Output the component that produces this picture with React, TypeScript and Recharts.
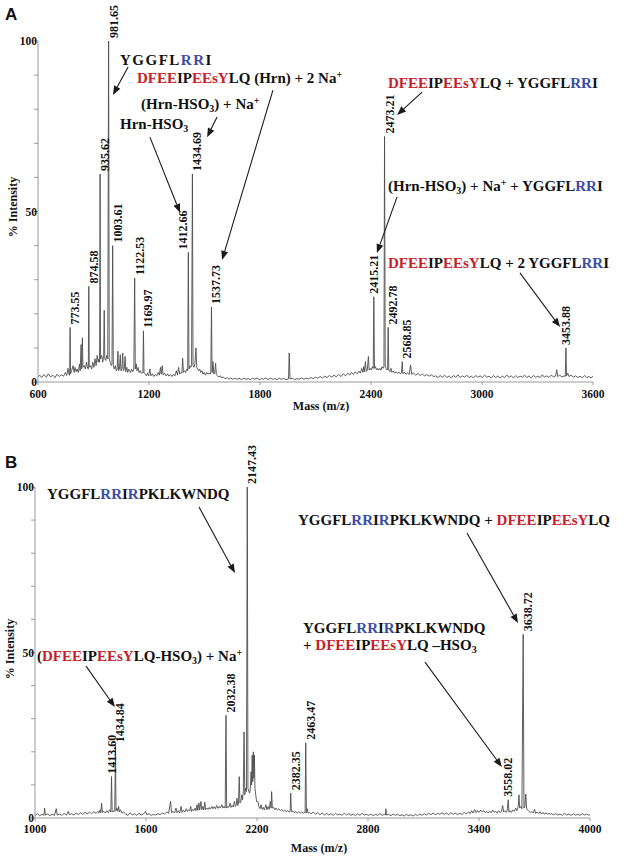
import { ComposedChart, Line, ReferenceLine, Scatter, XAxis, YAxis } from 'recharts';

// ---- panel A: labelled peaks [m/z, % intensity]
const peaksA = [
  [773.55, 16], [874.58, 28], [935.62, 61], [981.65, 100], [1003.61, 40],
  [1122.53, 30.5], [1169.97, 15], [1412.66, 38], [1434.69, 61], [1537.73, 22],
  [2415.21, 25], [2473.21, 72], [2492.78, 16], [2568.85, 6], [3453.88, 10],
];

// ---- panel A: everything else in the trace (baseline + small unlabelled peaks)
const traceA = [
  [600, 1.5], [610, 2.0], [620, 1.3], [632, 2.2], [645, 1.4], [655, 2.4], [668, 1.5], [680, 2.0],
  [692, 1.3], [703, 2.3], [715, 1.6], [726, 2.1], [738, 1.7], [748, 2.8], [755, 1.9], [762, 4.0],
  [768, 2.1], [771, 2.0], [776, 2.4], [782, 3.4], [790, 4.8], [795, 2.8], [800, 4.3], [806, 3.0],
  [812, 3.8], [818, 2.8], [824, 5.3], [828, 3.3], [833, 11], [836, 3.8], [840, 13], [843, 4.3],
  [850, 4.8], [856, 3.8], [862, 5.8], [868, 4.0], [872, 3.8], [877, 4.3], [884, 4.8], [890, 3.8],
  [896, 5.8], [902, 4.3], [908, 6.8], [914, 4.8], [920, 7.8], [925, 5.8], [930, 6.8], [933, 5.8],
  [938, 6.8], [944, 7.8], [950, 5.8], [955, 7.8], [958, 21], [961, 6.8], [966, 6.3], [972, 7.8],
  [977, 6.8], [985, 6.8], [990, 5.8], [996, 4.8], [1000, 5.3], [1007, 4.8], [1012, 3.8], [1018, 4.8],
  [1023, 3.3], [1028, 3.8], [1032, 9], [1035, 3.3], [1040, 3.8], [1045, 8], [1048, 3.3], [1053, 3.8],
  [1058, 8.5], [1061, 3.3], [1066, 3.8], [1071, 7.5], [1074, 3.0], [1080, 4.3], [1085, 2.8], [1090, 3.8],
  [1095, 3.3], [1100, 2.8], [1106, 3.8], [1112, 3.0], [1118, 3.8], [1126, 3.8], [1131, 5.3], [1135, 3.3],
  [1141, 4.3], [1146, 2.8], [1152, 3.3], [1158, 2.6], [1163, 2.8], [1167, 2.6], [1173, 2.8], [1180, 2.3],
  [1186, 1.8], [1192, 2.6], [1198, 1.8], [1205, 3.8], [1210, 1.8], [1218, 2.4], [1226, 1.6], [1234, 2.2],
  [1242, 1.8], [1250, 2.8], [1256, 2.0], [1262, 4.3], [1266, 2.3], [1272, 4.8], [1276, 2.1], [1284, 2.6],
  [1292, 1.8], [1300, 2.4], [1308, 1.7], [1316, 2.2], [1324, 1.6], [1332, 2.3], [1340, 1.8], [1348, 3.3],
  [1354, 2.0], [1360, 4.3], [1366, 2.3], [1372, 2.8], [1378, 2.6], [1382, 7], [1386, 2.8], [1392, 3.3],
  [1398, 2.8], [1404, 3.8], [1409, 3.3], [1416, 3.8], [1421, 4.8], [1426, 4.3], [1430, 4.8], [1438, 4.8],
  [1443, 4.3], [1448, 5.3], [1454, 10], [1458, 4.3], [1463, 3.8], [1468, 3.3], [1474, 3.8], [1480, 2.8],
  [1486, 3.3], [1492, 2.3], [1498, 2.8], [1505, 2.0], [1512, 2.8], [1518, 2.3], [1524, 2.6], [1530, 2.3],
  [1534, 2.6], [1541, 2.8], [1546, 6], [1550, 2.3], [1555, 2.6], [1560, 5.5], [1564, 2.1], [1570, 1.8],
  [1578, 1.5], [1586, 1.8], [1594, 1.1], [1602, 1.5], [1612, 0.9], [1622, 1.3], [1632, 0.8], [1642, 1.2],
  [1652, 0.8], [1664, 1.1], [1676, 0.8], [1688, 1.1], [1700, 0.7], [1712, 1.1], [1724, 0.8], [1736, 1.0],
  [1748, 0.7], [1760, 1.1], [1772, 0.8], [1784, 1.2], [1796, 0.7], [1808, 1.0], [1820, 0.8], [1832, 1.2],
  [1844, 0.7], [1856, 1.1], [1868, 0.8], [1880, 1.0], [1892, 0.7], [1904, 1.1], [1916, 0.8], [1928, 1.0],
  [1940, 0.7], [1954, 0.9], [1958, 8.5], [1962, 0.9], [1975, 1.1], [1988, 0.7], [2000, 1.0], [2012, 0.8],
  [2025, 1.2], [2038, 0.8], [2050, 1.1], [2062, 0.9], [2075, 1.3], [2088, 1.0], [2100, 1.4], [2112, 1.1],
  [2125, 1.6], [2138, 1.2], [2150, 1.7], [2162, 1.3], [2175, 1.9], [2188, 1.4], [2200, 2.0], [2212, 1.5],
  [2225, 2.2], [2238, 1.6], [2250, 2.4], [2262, 1.8], [2275, 2.6], [2285, 2.0], [2295, 2.8], [2305, 2.2],
  [2315, 3.0], [2325, 2.4], [2335, 3.2], [2342, 2.6], [2350, 4.0], [2356, 2.8], [2360, 4.5], [2364, 3.0],
  [2370, 6], [2374, 3.0], [2380, 3.5], [2386, 7.5], [2390, 3.5], [2396, 4.0], [2402, 3.5], [2408, 4.5],
  [2412, 4.0], [2419, 4.0], [2424, 4.5], [2430, 3.5], [2436, 4.0], [2442, 3.5], [2448, 4.0], [2454, 3.5],
  [2460, 4.5], [2466, 4.0], [2470, 4.5], [2477, 4.5], [2482, 4.0], [2487, 3.5], [2490, 3.8], [2496, 3.5],
  [2502, 3.0], [2508, 4.0], [2514, 2.8], [2520, 3.2], [2528, 2.6], [2536, 3.0], [2544, 2.5], [2552, 2.9],
  [2560, 2.4], [2565, 2.6], [2572, 2.5], [2582, 2.8], [2590, 2.3], [2598, 2.7], [2606, 2.2], [2614, 5],
  [2620, 2.3], [2630, 2.6], [2642, 2.0], [2654, 2.5], [2666, 1.9], [2678, 2.3], [2690, 1.8], [2702, 2.2],
  [2714, 1.7], [2726, 2.1], [2738, 1.6], [2750, 1.8], [2762, 1.3], [2774, 1.9], [2786, 1.4], [2798, 2.0],
  [2810, 1.3], [2822, 1.8], [2834, 1.2], [2846, 1.9], [2858, 1.4], [2870, 2.1], [2882, 1.3], [2894, 1.8],
  [2906, 1.4], [2918, 2.0], [2930, 1.3], [2942, 1.7], [2954, 1.2], [2966, 1.9], [2978, 1.4], [2990, 1.8],
  [3002, 1.3], [3014, 2.0], [3026, 1.4], [3038, 1.7], [3050, 1.2], [3062, 1.9], [3074, 1.3], [3086, 1.8],
  [3098, 1.2], [3110, 1.7], [3122, 1.3], [3134, 2.0], [3146, 1.4], [3158, 1.8], [3170, 1.2], [3182, 1.9],
  [3194, 1.3], [3206, 1.7], [3218, 1.4], [3230, 2.0], [3242, 1.3], [3254, 1.8], [3266, 1.2], [3278, 1.9],
  [3290, 1.4], [3302, 1.7], [3314, 1.3], [3326, 2.1], [3338, 1.4], [3350, 1.8], [3362, 1.3], [3374, 2.0],
  [3386, 1.5], [3398, 1.8], [3404, 3.6], [3409, 1.6], [3420, 2.0], [3432, 1.5], [3444, 1.8], [3450, 1.6],
  [3457, 1.8], [3464, 2.6], [3470, 1.6], [3482, 2.0], [3494, 1.4], [3506, 1.8], [3518, 1.3], [3530, 1.7],
  [3542, 1.2], [3554, 1.9], [3566, 1.3], [3578, 1.6], [3590, 1.2], [3600, 1.8],
];

// ---- panel B: labelled peaks
const peaksB = [
  [1413.6, 12.5], [1434.84, 22], [2032.38, 31], [2147.43, 100], [2382.35, 7.5],
  [2463.47, 22.7], [3558.02, 5.5], [3638.72, 55.5],
];

// ---- panel B: rest of the trace
const traceB = [
  [1000, 0.8], [1012, 1.3], [1025, 0.7], [1038, 1.1], [1048, 0.8], [1052, 3.0], [1056, 0.9], [1068, 1.2],
  [1080, 0.7], [1092, 1.1], [1105, 0.8], [1115, 2.8], [1120, 0.9], [1132, 1.2], [1145, 0.8], [1158, 1.4],
  [1170, 0.9], [1180, 2.0], [1186, 1.0], [1198, 1.3], [1210, 0.9], [1222, 1.5], [1234, 1.0], [1246, 1.6],
  [1258, 1.1], [1270, 1.7], [1282, 1.2], [1294, 1.8], [1306, 1.3], [1318, 1.9], [1330, 1.4], [1340, 2.0],
  [1346, 1.5], [1352, 2.5], [1356, 1.6], [1360, 4.5], [1364, 1.7], [1372, 2.0], [1380, 1.5], [1388, 2.2],
  [1396, 1.6], [1404, 2.5], [1410, 1.8], [1417, 2.0], [1422, 1.8], [1428, 2.2], [1431, 2.0], [1438, 2.2],
  [1443, 3.0], [1447, 2.0], [1452, 3.5], [1456, 1.8], [1462, 2.5], [1470, 1.5], [1478, 1.8], [1490, 1.2],
  [1502, 0.8], [1514, 1.6], [1526, 0.9], [1538, 1.3], [1550, 0.8], [1562, 1.4], [1574, 0.9], [1586, 1.2],
  [1598, 2.0], [1604, 1.0], [1616, 1.3], [1628, 0.8], [1640, 1.1], [1652, 0.9], [1664, 1.3], [1676, 1.0],
  [1688, 1.5], [1700, 1.2], [1712, 1.8], [1722, 1.4], [1733, 5.0], [1738, 1.6], [1746, 2.0], [1754, 1.5],
  [1762, 3.0], [1768, 1.6], [1775, 2.2], [1782, 1.5], [1790, 3.5], [1795, 1.7], [1802, 2.4], [1810, 1.8],
  [1818, 2.8], [1824, 2.0], [1830, 2.5], [1836, 2.2], [1842, 3.5], [1846, 2.0], [1852, 2.6], [1858, 2.2],
  [1865, 3.0], [1870, 2.2], [1876, 4.0], [1880, 2.3], [1886, 4.5], [1890, 2.4], [1897, 5.0], [1901, 2.5],
  [1908, 3.5], [1912, 2.4], [1918, 4.8], [1922, 2.5], [1930, 3.0], [1936, 2.6], [1942, 3.2], [1948, 2.7],
  [1956, 3.5], [1962, 2.8], [1968, 3.4], [1975, 2.8], [1982, 3.8], [1988, 2.9], [1995, 3.5], [2002, 3.0],
  [2010, 4.0], [2016, 3.0], [2022, 3.5], [2028, 3.0], [2036, 3.0], [2042, 3.5], [2048, 3.2], [2055, 4.5],
  [2060, 3.2], [2066, 3.8], [2072, 3.3], [2078, 5.0], [2083, 3.5], [2088, 4.0], [2092, 6.0], [2096, 3.8],
  [2100, 4.5], [2104, 12.5], [2108, 4.5], [2113, 5.0], [2118, 7.0], [2122, 5.5], [2126, 8.0], [2130, 26],
  [2134, 7.0], [2138, 9.0], [2143, 8.0], [2151, 9.0], [2156, 8.0], [2160, 7.5], [2164, 9.0], [2168, 14],
  [2171, 10], [2174, 19], [2177, 11], [2180, 20], [2183, 12], [2186, 19], [2189, 9.0], [2193, 7.0],
  [2198, 5.0], [2205, 5.0], [2210, 3.5], [2216, 2.8], [2222, 4.0], [2228, 2.6], [2234, 3.2], [2240, 2.4],
  [2248, 4.0], [2254, 2.5], [2260, 3.5], [2266, 2.6], [2272, 5.0], [2276, 3.0], [2279, 8.0], [2283, 3.0],
  [2290, 3.2], [2296, 2.5], [2302, 3.0], [2310, 2.4], [2318, 2.8], [2326, 2.2], [2334, 2.6], [2342, 2.0],
  [2350, 2.4], [2358, 1.9], [2366, 2.2], [2374, 1.8], [2379, 2.0], [2386, 1.9], [2394, 2.1], [2402, 1.6],
  [2410, 2.0], [2418, 1.5], [2426, 1.9], [2434, 1.5], [2442, 1.8], [2450, 1.4], [2456, 1.7], [2460, 1.5],
  [2467, 1.6], [2472, 2.8], [2476, 1.5], [2484, 1.7], [2492, 1.2], [2504, 1.8], [2516, 1.1], [2528, 1.6],
  [2540, 1.0], [2552, 1.5], [2564, 0.9], [2576, 1.4], [2588, 0.9], [2600, 1.3], [2612, 0.8], [2624, 1.4],
  [2636, 0.9], [2648, 1.2], [2660, 0.8], [2672, 1.5], [2684, 0.9], [2696, 1.3], [2708, 0.8], [2720, 1.2],
  [2732, 0.7], [2744, 1.3], [2756, 0.8], [2768, 1.4], [2780, 0.9], [2792, 1.1], [2804, 0.8], [2816, 1.2],
  [2828, 0.7], [2840, 1.1], [2852, 0.8], [2864, 1.3], [2876, 0.8], [2888, 1.1], [2894, 0.9], [2897, 2.8],
  [2900, 0.9], [2912, 1.1], [2924, 0.7], [2936, 1.2], [2948, 0.8], [2960, 1.1], [2972, 0.7], [2984, 1.0],
  [2996, 0.6], [3008, 1.1], [3020, 0.7], [3032, 1.0], [3044, 0.6], [3056, 1.1], [3068, 0.7], [3080, 1.2],
  [3092, 0.8], [3104, 1.3], [3116, 0.9], [3128, 1.4], [3140, 1.0], [3152, 1.5], [3164, 1.0], [3176, 1.4],
  [3188, 1.1], [3200, 1.6], [3212, 1.1], [3224, 1.5], [3236, 1.0], [3248, 1.6], [3260, 1.1], [3272, 1.5],
  [3284, 1.0], [3296, 1.4], [3308, 1.1], [3320, 1.7], [3332, 1.2], [3344, 1.9], [3352, 1.3], [3360, 2.2],
  [3368, 1.5], [3376, 2.5], [3384, 1.6], [3392, 2.3], [3400, 1.7], [3410, 2.4], [3418, 1.8], [3426, 2.2],
  [3434, 1.6], [3442, 2.0], [3450, 1.5], [3458, 2.1], [3466, 1.6], [3474, 2.4], [3482, 1.7], [3490, 2.0],
  [3498, 1.5], [3506, 2.2], [3514, 1.6], [3522, 2.0], [3528, 3.8], [3533, 1.8], [3540, 2.2], [3546, 1.7],
  [3552, 2.0], [3562, 1.8], [3568, 2.2], [3575, 1.7], [3582, 2.4], [3590, 2.0], [3598, 3.0], [3605, 2.2],
  [3612, 3.5], [3616, 7.0], [3620, 3.0], [3627, 3.5], [3632, 2.8], [3643, 3.0], [3648, 3.5], [3653, 7.2],
  [3657, 3.0], [3662, 2.5], [3670, 2.0], [3678, 1.6], [3686, 2.0], [3694, 1.5], [3700, 2.6], [3706, 1.4],
  [3714, 1.8], [3722, 1.3], [3730, 1.9], [3738, 1.2], [3746, 1.7], [3754, 1.1], [3762, 1.6], [3770, 1.1],
  [3778, 1.5], [3786, 1.0], [3794, 1.4], [3802, 0.9], [3814, 1.3], [3826, 0.9], [3838, 1.2], [3850, 0.8],
  [3862, 1.4], [3874, 0.9], [3886, 1.2], [3898, 0.8], [3910, 1.3], [3922, 0.9], [3934, 1.1], [3946, 0.8],
  [3958, 1.3], [3970, 0.9], [3982, 1.2], [3994, 0.8], [4000, 1.0],
];

const xTicksA = [600, 1200, 1800, 2400, 3000, 3600];
const xTicksB = [1000, 1600, 2200, 2800, 3400, 4000];
const yTicks = [0, 10, 20, 30, 40, 50, 60, 70, 80, 90, 100];

// annotation arrows, [fromM, fromI, toM, toI] in data units
const arrowsA = [
  [1087, 92.4, 1005, 84.2],
  [1870, 85.6, 1595, 35.8],
  [1568, 77.7, 1514, 71.8],
  [1205, 71.8, 1368, 49.6],
  [2676, 85.0, 2541, 78.3],
  [2541, 54.3, 2432, 37.8],
  [3205, 32.0, 3422, 16.1],
];
const arrowsB = [
  [1886, 94.0, 2081, 74.0],
  [3335, 86.1, 3611, 58.9],
  [1276, 45.9, 1432, 33.5],
  [3108, 47.1, 3524, 15.4],
];

const SERIF = "'Liberation Serif', 'Times New Roman', serif";
const INK = '#111';
const RED = '#c41f2b';
const BLUE = '#3a4ea6';

// horizontal offset of a rotated peak label from its peak line (px); default sits right of the line
const LABEL_DX_DEFAULT = 9;
const labelDx: Record<string, number> = {
  '1412.66': -1, '2415.21': 4, '3453.88': 4, '1413.60': 4, '3558.02': 4,
};

type Seg = [string, string?];
const HRN: Seg[] = [['DFEE', 'r'], ['IP'], ['EEsY', 'r'], ['LQ']];
const YRI: Seg[] = [['YGGFL'], ['RR', 'b'], ['I']];
const DYN: Seg[] = [['YGGFL'], ['RR', 'b'], ['I'], ['R', 'b'], ['PKLKWNDQ']];

const notesA: { x: number; y: number; segs: Seg[]; ls?: number }[] = [
  { x: 120, y: 66, segs: YRI, ls: 1.5 },
  { x: 137, y: 84, segs: [...HRN, [' (Hrn) + 2 Na'], ['+', 'sup']] },
  { x: 141, y: 110, segs: [['(Hrn-HSO'], ['3', 'sub'], [') + Na'], ['+', 'sup']] },
  { x: 120, y: 130, segs: [['Hrn-HSO'], ['3', 'sub']] },
  { x: 388, y: 89, segs: [...HRN, [' + '], ...YRI] },
  { x: 388, y: 192, segs: [['(Hrn-HSO'], ['3', 'sub'], [') + Na'], ['+', 'sup'], [' + '], ...YRI] },
  { x: 388, y: 269, segs: [...HRN, [' + 2 '], ...YRI] },
];
const notesB: { x: number; y: number; segs: Seg[]; ls?: number }[] = [
  { x: 47, y: 500, segs: DYN },
  { x: 298, y: 526, segs: [...DYN, [' + '], ...HRN] },
  { x: 37, y: 662, segs: [['('], ...HRN, ['-HSO'], ['3', 'sub'], [') + Na'], ['+', 'sup']] },
  { x: 303, y: 634, segs: DYN },
  { x: 303, y: 651, segs: [['+ '], ...HRN, [' \u2013HSO'], ['3', 'sub']] },
];

const toRows = (rows: number[][]) => rows.map(([m, i]) => ({ m, i }));
const merge = (a: number[][], b: number[][]) => toRows([...a, ...b]).sort((p, q) => p.m - q.m);

const PeakLabel = (p: any) => {
  if (p.cx == null || p.cy == null) return <g />;
  const txt = p.payload.m.toFixed(2);
  const x = p.cx + (labelDx[txt] ?? LABEL_DX_DEFAULT);
  const y = p.cy - 3;
  return (
    <text x={x} y={y} transform={`rotate(-90 ${x} ${y})`} fontFamily={SERIF} fontSize={12} fontWeight={700} fill={INK}>
      {txt}
    </text>
  );
};

const Arrow = (p: any) => {
  const { x1, y1, x2, y2 } = p;
  const a = Math.atan2(y2 - y1, x2 - x1);
  const c = Math.cos(a);
  const s = Math.sin(a);
  const bx = x2 - 9 * c;
  const by = y2 - 9 * s;
  return (
    <g>
      <line x1={x1} y1={y1} x2={bx} y2={by} stroke="#1a1a1a" strokeWidth={1.1} />
      <polygon points={`${x2},${y2} ${bx - 3.5 * s},${by + 3.5 * c} ${bx + 3.5 * s},${by - 3.5 * c}`} fill="#1a1a1a" />
    </g>
  );
};

function Note({ x, y, segs, ls }: { x: number; y: number; segs: Seg[]; ls?: number }) {
  return (
    <div
      style={{
        position: 'absolute', left: x, top: y - 12.6, whiteSpace: 'nowrap', color: INK,
        fontFamily: SERIF, fontWeight: 700, fontSize: 15, lineHeight: '15px', letterSpacing: ls ?? 0,
      }}
    >
      {segs.map(([t, k], n) => {
        if (k === 'sub') return <span key={n} style={{ fontSize: 10, verticalAlign: '-3px', lineHeight: 0 }}>{t}</span>;
        if (k === 'sup') return <span key={n} style={{ fontSize: 10, verticalAlign: '5px', lineHeight: 0 }}>{t}</span>;
        return <span key={n} style={{ color: k === 'r' ? RED : k === 'b' ? BLUE : INK }}>{t}</span>;
      })}
    </div>
  );
}

const tickStyle = { fill: INK, fontSize: 11.5, fontWeight: 700, fontFamily: SERIF };
const grey = { stroke: '#9a9a9a' };

function Spectrum(props: {
  trace: number[][]; peaks: number[][]; arrows: number[][]; xTicks: number[];
  height: number; margin: { top: number; right: number; bottom: number; left: number };
  yWidth: number; xHeight: number; xGap: number;
}) {
  const { trace, peaks, arrows, xTicks, height, margin, yWidth, xHeight, xGap } = props;
  const line = merge(trace, peaks);
  return (
    <ComposedChart width={624} height={height} margin={margin}>
      <XAxis
        dataKey="m" type="number" domain={[xTicks[0], xTicks[xTicks.length - 1]]} ticks={xTicks}
        height={xHeight} tick={tickStyle} tickLine={grey} axisLine={grey} tickSize={3} tickMargin={xGap}
      />
      <YAxis
        dataKey="i" type="number" domain={[0, 100]} ticks={yTicks} width={yWidth}
        tick={tickStyle} tickLine={grey} axisLine={grey} tickSize={4} tickMargin={-3}
        tickFormatter={(v: number) => (v % 50 === 0 ? String(v) : '')}
      />
      <Line data={line} dataKey="i" type="linear" stroke="#4d4d4d" strokeWidth={0.9} dot={false} activeDot={false} isAnimationActive={false} />
      <Scatter data={toRows(peaks)} dataKey="i" shape={PeakLabel} isAnimationActive={false} />
      {arrows.map((a, k) => (
        <ReferenceLine key={k} segment={[{ x: a[0], y: a[1] }, { x: a[2], y: a[3] }]} ifOverflow="visible" shape={Arrow} />
      ))}
    </ComposedChart>
  );
}

const abs = (left: number, top: number) => ({ position: 'absolute' as const, left, top });
const axisTitle = { fontFamily: SERIF, fontWeight: 700, fontSize: 12, color: INK, whiteSpace: 'nowrap' as const };
const panelLetter = { fontFamily: "'Liberation Sans', Arial, sans-serif", fontWeight: 700, fontSize: 17, lineHeight: '17px', color: INK };

export default function App() {
  return (
    <div style={{ position: 'absolute', left: 0, top: 0, width: 624, height: 859, background: '#fff', overflow: 'hidden' }}>
      <div style={abs(0, 0)}>
        <Spectrum
          trace={traceA} peaks={peaksA} arrows={arrowsA} xTicks={xTicksA} height={420}
          margin={{ top: 41, right: 31, bottom: 0, left: 0 }} yWidth={38} xHeight={38} xGap={5}
        />
      </div>
      <div style={abs(0, 420)}>
        <Spectrum
          trace={traceB} peaks={peaksB} arrows={arrowsB} xTicks={xTicksB} height={439}
          margin={{ top: 67, right: 34, bottom: 0, left: 0 }} yWidth={35} xHeight={41} xGap={4}
        />
      </div>

      <div style={{ ...abs(5, 5.6), ...panelLetter }}>A</div>
      <div style={{ ...abs(5, 453.6), ...panelLetter }}>B</div>

      <div style={{ ...abs(13, 207), ...axisTitle, transform: 'translate(-50%, -50%) rotate(-90deg)' }}>% Intensity</div>
      <div style={{ ...abs(10, 649), ...axisTitle, transform: 'translate(-50%, -50%) rotate(-90deg)' }}>% Intensity</div>
      <div style={{ ...abs(321, 406), ...axisTitle, transform: 'translate(-50%, -50%)' }}>Mass (m/z)</div>
      <div style={{ ...abs(319, 848), ...axisTitle, transform: 'translate(-50%, -50%)' }}>Mass (m/z)</div>

      {notesA.map((n, k) => <Note key={`a${k}`} {...n} />)}
      {notesB.map((n, k) => <Note key={`b${k}`} {...n} />)}
    </div>
  );
}
